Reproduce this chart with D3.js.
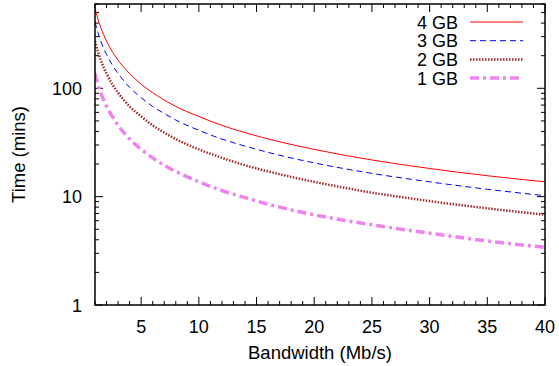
<!DOCTYPE html>
<html>
<head>
<meta charset="utf-8">
<script src="https://cdn.jsdelivr.net/npm/d3@7"></script>
<style>
  body { margin: 0; background: #fff; }
  text { font-family: "Liberation Sans", Arial, sans-serif; fill: #000; }
</style>
</head>
<body>
<div id="chart"></div>
<script>
    var width = 559,
        height = 366,
        margin = {top: 4, right: 14, bottom: 61, left: 95};

    // bandwidth samples (Mb/s)
    var bandwidth = [1, 1.25, 1.5, 1.75, 2, 2.5, 3, 3.5, 4, 5, 6, 7, 8, 10, 12, 14, 17, 20, 25, 30, 35, 40];
    // transfer time (mins)
    var gb4 = [546, 437, 364, 312, 273, 218, 182, 156, 137, 109, 91, 78, 68, 55, 45.5, 39, 32.1, 27.3, 21.8, 18.2, 15.6, 13.7];
    var gb3 = [410, 328, 273, 234, 205, 164, 137, 117, 102, 82, 68, 58.5, 51, 41, 34, 29.3, 24.1, 20.5, 16.4, 13.7, 11.7, 10.2];
    var gb2 = [273, 218, 182, 156, 137, 109, 91, 78, 68, 55, 45.5, 39, 34, 27.3, 22.8, 19.5, 16.1, 13.7, 10.9, 9.1, 7.8, 6.8];
    var gb1 = [137, 109, 91, 78, 68, 55, 45.5, 39, 34, 27.3, 22.8, 19.5, 17.1, 13.7, 11.4, 9.8, 8.0, 6.8, 5.5, 4.6, 3.9, 3.4];

    var seriesNames = ["4 GB", "3 GB", "2 GB", "1 GB"];
    var seriesValues = [gb4, gb3, gb2, gb1];
    var xTicks = [5, 10, 15, 20, 25, 30, 35, 40];
    var yTicks = [1, 10, 100];

    var styles = [
        {color: "#ff0000", width: 1, dash: null},
        {color: "#0000ff", width: 1, dash: "6,4"},
        {color: "#a52a2a", width: 2.5, dash: "1.5,1.5"},
        {color: "#ee82ee", width: 3.5, dash: "9,4,3,4"}
    ];

    var iw = width - margin.left - margin.right,
        ih = height - margin.top - margin.bottom;

    var svg = d3.select("#chart").append("svg")
        .attr("width", width)
        .attr("height", height);

    var g = svg.append("g")
        .attr("transform", "translate(" + margin.left + "," + margin.top + ")");

    var x = d3.scaleLinear().domain([1, 40]).range([0, iw]);
    var y = d3.scaleLog().domain([1, 600]).range([ih, 0]);

    // minor ticks
    var xMinor = d3.range(1, 41);
    var yMinor = [];
    [1, 10, 100].forEach(function (d) {
        for (var k = 2; k <= 9; k++) { if (d * k <= 600) yMinor.push(d * k); }
    });

    var ticks = g.append("g").attr("stroke", "#000").attr("stroke-width", 1);

    function xTick(v, len) {
        ticks.append("line").attr("x1", x(v)).attr("x2", x(v)).attr("y1", ih).attr("y2", ih - len);
        ticks.append("line").attr("x1", x(v)).attr("x2", x(v)).attr("y1", 0).attr("y2", len);
    }
    function yTick(v, len) {
        ticks.append("line").attr("y1", y(v)).attr("y2", y(v)).attr("x1", 0).attr("x2", len);
        ticks.append("line").attr("y1", y(v)).attr("y2", y(v)).attr("x1", iw).attr("x2", iw - len);
    }
    xMinor.forEach(function (v) { if (xTicks.indexOf(v) < 0) xTick(v, 4); });
    xTicks.forEach(function (v) { xTick(v, 8); });
    yMinor.forEach(function (v) { yTick(v, 4); });
    yTicks.forEach(function (v) { yTick(v, 8); });

    // tick labels
    g.selectAll("text.xl").data(xTicks).enter().append("text")
        .attr("class", "xl")
        .attr("x", function (d) { return x(d); })
        .attr("y", ih + 28)
        .attr("text-anchor", "middle")
        .style("font-size", "18px")
        .text(function (d) { return d; });

    g.selectAll("text.yl").data(yTicks).enter().append("text")
        .attr("class", "yl")
        .attr("x", -13)
        .attr("y", function (d) { return y(d) + 6.5; })
        .attr("text-anchor", "end")
        .style("font-size", "18px")
        .text(function (d) { return d; });

    // axis titles
    g.append("text")
        .attr("x", iw / 2)
        .attr("y", ih + 54)
        .attr("text-anchor", "middle")
        .style("font-size", "18.5px")
        .text("Bandwidth (Mb/s)");

    g.append("text")
        .attr("transform", "translate(" + (-70) + "," + (ih / 2) + ") rotate(-90)")
        .attr("text-anchor", "middle")
        .style("font-size", "18.5px")
        .text("Time (mins)");

    // curves
    var line = d3.line()
        .x(function (d, i) { return x(bandwidth[i]); })
        .y(function (d) { return y(d); })
        .curve(d3.curveMonotoneX);

    svg.append("clipPath").attr("id", "clip")
        .append("rect").attr("width", iw).attr("height", ih);

    g.append("g").attr("clip-path", "url(#clip)")
        .selectAll("path.series").data(seriesValues).enter().append("path")
        .attr("class", "series")
        .attr("d", line)
        .attr("fill", "none")
        .attr("stroke", function (d, i) { return styles[i].color; })
        .attr("stroke-width", function (d, i) { return styles[i].width; })
        .attr("stroke-dasharray", function (d, i) { return styles[i].dash; });

    // frame
    g.append("rect")
        .attr("width", iw)
        .attr("height", ih)
        .attr("fill", "none")
        .attr("stroke", "#000")
        .attr("stroke-width", 1.5);

    // legend
    var legend = g.append("g").attr("transform", "translate(" + (458 - margin.left) + "," + (22 - margin.top) + ")");
    seriesNames.forEach(function (name, i) {
        var row = legend.append("g").attr("transform", "translate(0," + (i * 18.7) + ")");
        row.append("text")
            .attr("x", 0)
            .attr("y", 6.5)
            .attr("text-anchor", "end")
            .style("font-size", "18px")
            .text(name);
        row.append("line")
            .attr("x1", 12).attr("x2", 65)
            .attr("stroke", styles[i].color)
            .attr("stroke-width", styles[i].width)
            .attr("stroke-dasharray", styles[i].dash);
    });
</script>
</body>
</html>
